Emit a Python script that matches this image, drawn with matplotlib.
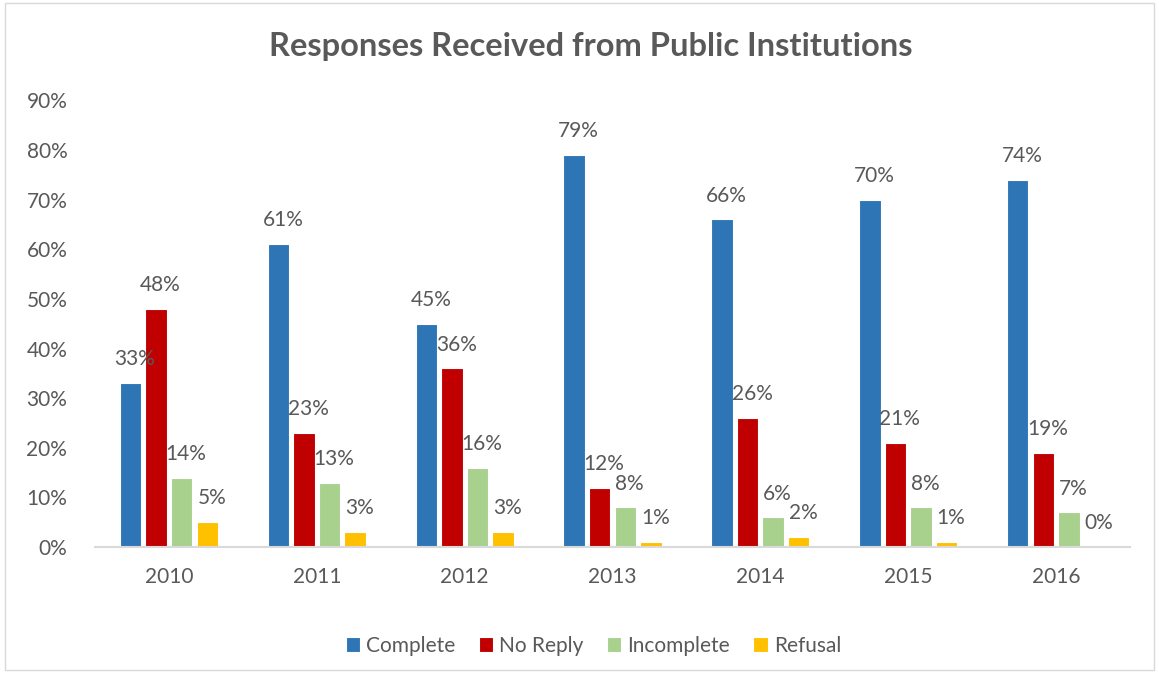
import numpy as np
import matplotlib; matplotlib.use("Agg")
import matplotlib.pyplot as plt
from matplotlib.patches import Rectangle

plt.rcParams["font.family"] = ["Lato", "DejaVu Sans"]

years = ["2010", "2011", "2012", "2013", "2014", "2015", "2016"]
complete = [33, 61, 45, 79, 66, 70, 74]
no_reply = [48, 23, 36, 12, 26, 21, 19]
incomplete = [14, 13, 16, 8, 6, 8, 7]
refusal = [5, 3, 3, 1, 2, 1, 0]

series = [("Complete", complete, "#2E75B6"), ("No Reply", no_reply, "#C00000"),
          ("Incomplete", incomplete, "#A9D18E"), ("Refusal", refusal, "#FFC000")]
TXT = "#595959"

fig = plt.figure(figsize=(11.59, 6.73), dpi=100)
ax = fig.add_axes([0.082, 0.187, 0.893, 0.664])
x = np.arange(len(years)); w = 0.145; step = 0.173
for i, (name, vals, col) in enumerate(series):
    pos = x + (i - 1.5) * step
    ax.bar(pos, vals, w, color=col, edgecolor="white", linewidth=0.8, label=name)
    for p, v in zip(pos, vals):
        ax.text(p + 0.03, v + 4.8, f"{v}%", ha="center", va="center", fontsize=15, color=TXT)

ax.set_ylim(0, 90); ax.set_xlim(-0.5, len(years) - 0.5)
ax.set_yticks(range(0, 91, 10))
ax.set_yticklabels([f"{t}%" for t in range(0, 91, 10)], fontsize=15, color=TXT)
ax.set_xticks(x); ax.set_xticklabels(years, fontsize=15, color=TXT)
ax.tick_params(length=0, pad=14)
ax.tick_params(axis="y", pad=20)
for s in ["top", "right", "left"]:
    ax.spines[s].set_visible(False)
ax.spines["bottom"].set_color("#D9D9D9"); ax.spines["bottom"].set_linewidth(1.5)

fig.suptitle("Responses Received from Public Institutions", x=0.51, y=0.952, fontsize=23.5,
             fontweight="bold", color=TXT)
fig.legend(loc="center", bbox_to_anchor=(0.512, 0.04), ncol=4, frameon=False, fontsize=15,
           labelcolor=TXT, handlelength=0.7, handleheight=0.7, handletextpad=0.3, columnspacing=1.1)
fig.patches.append(Rectangle((0.004, 0.004), 0.992, 0.992, transform=fig.transFigure,
                             fill=False, edgecolor="#D9D9D9", linewidth=1))
fig.savefig("out.png", dpi=100)
